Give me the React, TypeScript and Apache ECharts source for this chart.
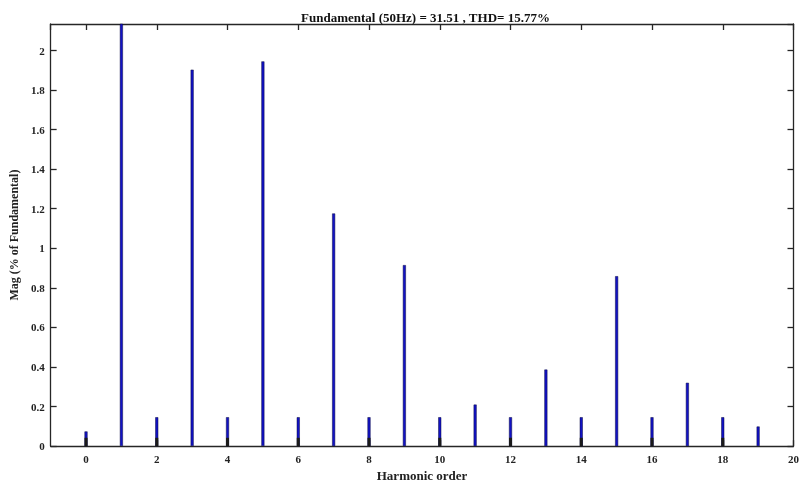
import React, { useEffect, useRef } from "react";
import * as echarts from "echarts";

const orders = [0, 1, 2, 3, 4, 5, 6, 7, 8, 9, 10, 11, 12, 13, 14, 15, 16, 17, 18, 19];
const magnitudes = [0.074, 100, 0.146, 1.903, 0.146, 1.945, 0.146, 1.176, 0.146, 0.915, 0.146, 0.21, 0.146, 0.387, 0.146, 0.859, 0.146, 0.32, 0.146, 0.099];
const darkBase = [0.042, 0, 0.042, 0, 0.042, 0, 0.042, 0, 0.042, 0, 0.042, 0, 0.042, 0, 0.042, 0, 0.042, 0, 0.042, 0];
const titleText = "Fundamental (50Hz) = 31.51 , THD= 15.77%";

const FONT = "Liberation Serif";

function Chart() {
  const ref = useRef<HTMLDivElement>(null);
  useEffect(() => {
    const c = echarts.init(ref.current!, null, { renderer: "svg" });
    const mkLine = () => ({ show: true, onZero: false, lineStyle: { color: "#262626", width: 1.3 } });
    const mkTick = () => ({ show: true, inside: true, length: 6, lineStyle: { color: "#262626", width: 1.3 } });
    const xBase = { type: "value", min: -1, max: 20, splitNumber: 10, splitLine: { show: false } };
    const yBase = { type: "value", min: 0, max: 2.134, interval: 0.2, splitLine: { show: false } };
    c.setOption({
      animation: false,
      title: {
        text: titleText,
        left: 296,
        top: 6,
        textStyle: { fontFamily: FONT, fontWeight: "bold", fontSize: 13, color: "#111" },
      },
      grid: { left: 49, right: 5, top: 24, bottom: 38 },
      xAxis: [
        {
          ...xBase,
          name: "Harmonic order",
          nameLocation: "middle",
          nameGap: 21,
          nameTextStyle: { fontFamily: FONT, fontWeight: "bold", fontSize: 13, color: "#222" },
          axisLine: mkLine(),
          axisTick: mkTick(),
          axisLabel: { showMinLabel: false, fontFamily: FONT, fontWeight: "bold", fontSize: 11, color: "#222", margin: 7 },
        },
        { ...xBase, position: "top", axisLine: mkLine(), axisTick: mkTick(), axisLabel: { show: false } },
      ],
      yAxis: [
        {
          ...yBase,
          name: "Mag (% of Fundamental)",
          nameLocation: "middle",
          nameGap: 28,
          nameTextStyle: { fontFamily: FONT, fontWeight: "bold", fontSize: 12, color: "#222" },
          axisLine: mkLine(),
          axisTick: mkTick(),
          axisLabel: { fontFamily: FONT, fontWeight: "bold", fontSize: 11, color: "#222", margin: 6, showMaxLabel: false },
        },
        { ...yBase, position: "right", axisLine: mkLine(), axisTick: mkTick(), axisLabel: { show: false } },
      ],
      series: [
        {
          type: "bar",
          barWidth: 3,
          barGap: "-100%",
          itemStyle: { color: "#1212c4", borderColor: "#0b0b40", borderWidth: 0.5 },
          data: orders.map((x, i) => [x, magnitudes[i]]),
        },
        {
          type: "bar",
          barWidth: 3,
          barGap: "-100%",
          itemStyle: { color: "#1a1a1a" },
          data: orders.map((x, i) => [x, darkBase[i]]),
        },
      ],
    });
    return () => c.dispose();
  }, []);
  return <div ref={ref} style={{ width: 802, height: 487 }} />;
}

export default function App() {
  return (
    <div style={{ position: "fixed", left: 0, top: 0, width: 802, height: 487, display: "flex", flexWrap: "wrap" }}>
      <Chart />
    </div>
  );
}
